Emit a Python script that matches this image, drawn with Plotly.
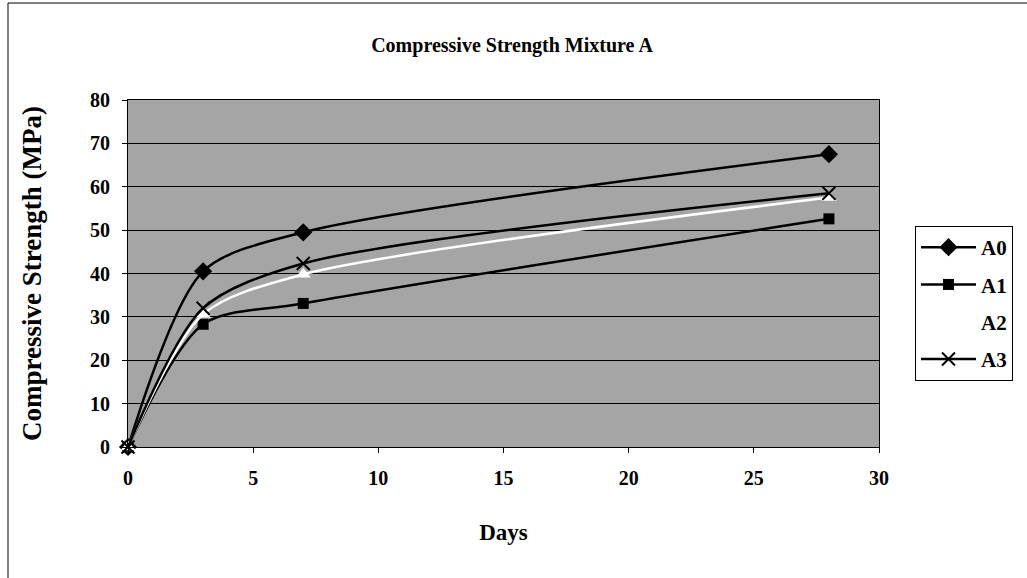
import plotly.graph_objects as go

# Curing age (days) and compressive strength (MPa) per mix
days = [0, 3, 7, 28]
a0 = [0, 40.5, 49.5, 67.5]
a1 = [0, 28.3, 33.1, 52.6]
a2 = [0, 30.6, 39.8, 57.5]
a3 = [0, 32.0, 42.3, 58.5]

series_names = ["A0", "A1", "A2", "A3"]
x_ticks = [0, 5, 10, 15, 20, 25, 30]
y_ticks = [0, 10, 20, 30, 40, 50, 60, 70, 80]

FONT = "Liberation Serif"
W, H = 1027, 578
L, R, T, B = 128, 148, 100, 131
pw, ph = W - L - R, H - T - B

spline = dict(shape="spline", smoothing=0.8)
styles = {
    "A0": dict(line=dict(color="black", width=2.5, **spline),
               marker=dict(symbol="diamond", size=14, color="black")),
    "A1": dict(line=dict(color="black", width=2.5, **spline),
               marker=dict(symbol="square", size=11, color="black")),
    "A2": dict(line=dict(color="white", width=2.5, **spline),
               marker=dict(symbol="triangle-up", size=13, color="white")),
    "A3": dict(line=dict(color="black", width=2.5, **spline),
               marker=dict(symbol="x-thin", size=13, color="black",
                           line=dict(color="black", width=2))),
}

fig = go.Figure()
for name, vals in zip(series_names, [a0, a1, a2, a3]):
    fig.add_trace(go.Scatter(x=days, y=vals, mode="lines+markers", name=name,
                             legendgroup=name, cliponaxis=False, **styles[name]))


def px_to_paper_x(p):
    return (p - L) / pw


def px_to_paper_y(p):
    return (H - B - p) / ph


# Outer chart frame
fig.add_shape(type="rect", xref="paper", yref="paper",
              x0=px_to_paper_x(8), x1=px_to_paper_x(1040),
              y0=px_to_paper_y(590), y1=px_to_paper_y(3),
              line=dict(color="black", width=1), fillcolor="rgba(0,0,0,0)",
              layer="below")

tick_font = dict(family=FONT, size=20, color="black", weight="bold")

fig.update_layout(
    width=W, height=H,
    margin=dict(l=L, r=R, t=T, b=B, autoexpand=False),
    paper_bgcolor="white",
    plot_bgcolor="#a5a5a5",
    title=dict(text="Compressive Strength Mixture A", x=px_to_paper_x(512),
               xref="paper", xanchor="center",
               y=(H - 45) / H, yanchor="middle",
               font=dict(family=FONT, size=20, color="black", weight="bold")),
    font=dict(family=FONT, color="black"),
    showlegend=True,
    legend=dict(x=px_to_paper_x(915), xanchor="left",
                y=px_to_paper_y(226), yanchor="top",
                bordercolor="black", borderwidth=1, bgcolor="white",
                tracegroupgap=7, itemwidth=55,
                font=dict(family=FONT, size=21, color="black", weight="bold")),
    xaxis=dict(range=[0, 30], tickvals=x_ticks, showgrid=False, zeroline=False,
               showline=True, linecolor="black", linewidth=1, mirror=True,
               ticks="outside", ticklen=5, tickcolor="black",
               ticklabelstandoff=8, tickfont=tick_font,
               title=dict(text="Days", standoff=35,
                          font=dict(family=FONT, size=23, color="black", weight="bold"))),
    yaxis=dict(range=[0, 80], tickvals=y_ticks, showgrid=True, gridcolor="black",
               gridwidth=1, zeroline=False,
               showline=True, linecolor="black", linewidth=1, mirror=True,
               ticks="outside", ticklen=5, tickcolor="black",
               ticklabelstandoff=8, tickfont=tick_font,
               title=dict(text="Compressive Strength (MPa)", standoff=40,
                          font=dict(family=FONT, size=27, color="black", weight="bold"))),
)

fig.write_html("out.html")
